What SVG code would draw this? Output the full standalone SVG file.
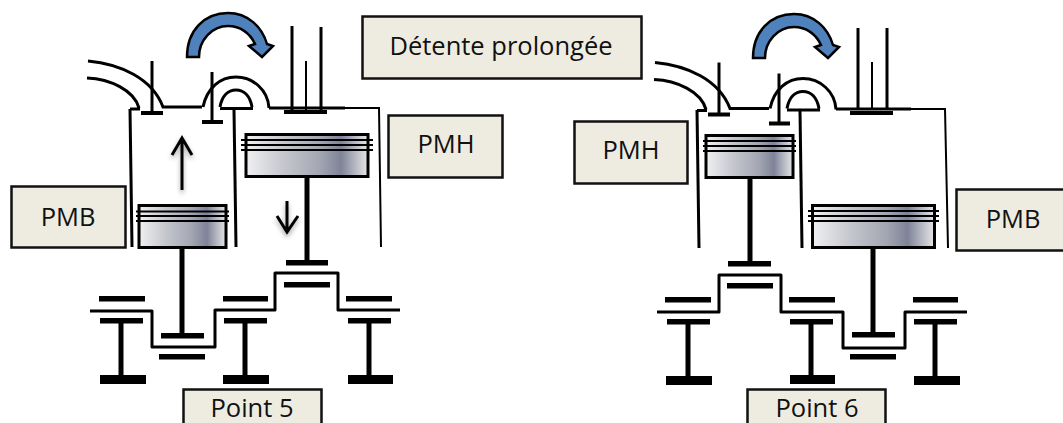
<svg xmlns="http://www.w3.org/2000/svg" width="1063" height="423" viewBox="0 0 1063 423">
<style>
.box{fill:#eeece1;stroke:#111;stroke-width:2.500}
.t{font-family:"Open Sans","Noto Sans",sans-serif;font-size:25.500px;fill:#111;text-anchor:middle}
.l{fill:none;stroke:#000;stroke-width:3}
.l2{fill:none;stroke:#000;stroke-width:2}
.rod{fill:none;stroke:#000;stroke-width:5}
.crank{fill:none;stroke:#000;stroke-width:3;stroke-linejoin:round}
.piston{fill:url(#pg);stroke:#000;stroke-width:3}
.ring{stroke:#000;stroke-width:2}
.arr{fill:#4f81bd;stroke:#000;stroke-width:2.500;stroke-linejoin:miter}
.mv{fill:none;stroke:#000;stroke-width:3;filter:url(#sh)}
</style>
<defs>
<linearGradient id="pg" x1="0" x2="1" y1="0" y2="0">
<stop offset="0" stop-color="#f0f0f2"/><stop offset=".3" stop-color="#c6c8ce"/><stop offset=".6" stop-color="#a4a7b3"/><stop offset=".78" stop-color="#7f8398"/><stop offset=".95" stop-color="#d0d1d6"/><stop offset="1" stop-color="#e4e4e8"/>
</linearGradient>
<filter id="sh" x="-100%" y="-30%" width="300%" height="170%"><feGaussianBlur in="SourceAlpha" stdDeviation="2.500"/><feOffset dy="3"/><feComponentTransfer><feFuncA type="linear" slope=".35"/></feComponentTransfer><feMerge><feMergeNode/><feMergeNode in="SourceGraphic"/></feMerge></filter>
<path id="blue" class="arr" d="M187,57 C187,30 205,13 228,13 C248,13 262,27 267,44 L273,46 L262,57 L249,46 L255,44 C250,33 240,26 228,26 C212,26 199,40 199,57 Z"/>
<g id="head">
<path class="l" d="M88,61 C120,64 152,78 163,107 H202"/>
<path class="l" d="M87,78 C110,79 134,90 139,108 M130,109 H140"/>
<path class="l" d="M152,61 V113"/><rect x="141" y="111" width="22" height="4"/>
<path class="l" d="M212,72 V122"/><rect x="202" y="120" width="21" height="4"/>
<path class="l" d="M203,107 C207,88 220,77 236,77 C253,77 268,90 269,108"/>
<path class="l" d="M220,107 C222,96 228,90 236,90 C244,90 250,96 252,107 M220,108.500 H253"/>
</g>
</defs>

<g id="connectors">
<path class="crank" d="M90,311 H152 V347 H215 V310 H275 V273 H338 V310 H400"/>
<path class="crank" d="M657,312 H719 V275 H781 V312 H843 V348 H905 V312 H967"/>
</g>

<g id="engine-left">
<use href="#head"/>
<use href="#blue"/>
<path class="l" d="M130,109 L132,247"/>
<path class="l" d="M234,110 L236,247"/>
<path class="l" d="M269,108 H345"/><path class="l2" d="M345,108 H379 L381,247"/>
<path class="l" d="M292,26 V110 M321,27 V110"/><path class="l2" d="M306,61 V110"/><rect x="284" y="110" width="43" height="4"/>
<g id="piston-5a"><rect class="piston" x="139" y="205.500" width="87" height="42"/><path class="ring" d="M136,211.500 H229 M136,216 H229 M136,221 H229"/></g>
<path class="rod" d="M182,248 V335"/><rect x="161" y="333" width="43" height="5.500"/>
<g id="piston-5b"><rect class="piston" x="246" y="134.500" width="122" height="42"/><path class="ring" d="M241,140 H373 M241,145 H373 M241,150 H373"/></g>
<path class="rod" d="M307,177 V262"/><rect x="286" y="260" width="42" height="5.500"/><rect x="284" y="282" width="46" height="5.500"/>
<rect x="159" y="354" width="46" height="5.500"/>
<g id="bearings-5">
<rect x="99" y="296" width="46" height="5.500"/><rect x="100" y="318" width="43" height="5.500"/><path class="rod" d="M121,321 V376"/><rect x="100" y="375" width="46" height="9"/>
<rect x="223" y="296" width="45" height="5.500"/><rect x="224" y="318" width="43" height="5.500"/><path class="rod" d="M245,321 V376"/><rect x="223" y="375" width="46" height="9"/>
<rect x="346" y="296" width="46" height="5.500"/><rect x="348" y="318" width="43" height="5.500"/><path class="rod" d="M369,321 V376"/><rect x="348" y="375" width="45" height="9"/>
</g>
<path class="mv" d="M182,190 V138 M172,155 L182,138 L192,155"/>
<path class="mv" d="M287,201 V232 M277,216 L287,232 L298,216"/>
</g>

<g id="engine-right">
<use href="#head" x="567" y="1.500"/>
<use href="#blue" x="566" y="1"/>
<path class="l" d="M697,110 L699,248"/>
<path class="l" d="M800,111 L802,248"/>
<path class="l" d="M836,109 H911"/><path class="l2" d="M911,109 H945 L948,248"/>
<path class="l" d="M858,28 V110 M887,28 V110"/><path class="l2" d="M872,62 V110"/><rect x="850" y="111" width="43" height="4"/>
<g id="piston-6a"><rect class="piston" x="706" y="135.500" width="87" height="42"/><path class="ring" d="M703,141 H796 M703,146 H796 M703,151 H796"/></g>
<path class="rod" d="M750,178 V264"/><rect x="728" y="261" width="43" height="5.500"/><rect x="727" y="283" width="46" height="5.500"/>
<g id="piston-6b"><rect class="piston" x="812.500" y="205.500" width="122" height="42"/><path class="ring" d="M808,211 H939 M808,216 H939 M808,221 H939"/></g>
<path class="rod" d="M873,248 V333"/><rect x="852" y="332" width="43" height="5.500"/><rect x="850" y="354" width="46" height="5.500"/>
<g id="bearings-6">
<rect x="665" y="297" width="46" height="5.500"/><rect x="667" y="319" width="43" height="5.500"/><path class="rod" d="M688,322 V377"/><rect x="666" y="376" width="46" height="9"/>
<rect x="789" y="297" width="46" height="5.500"/><rect x="790" y="319" width="43" height="5.500"/><path class="rod" d="M811,322 V377"/><rect x="790" y="375" width="45" height="9"/>
<rect x="913" y="297" width="45" height="5.500"/><rect x="914" y="319" width="43" height="5.500"/><path class="rod" d="M935,322 V377"/><rect x="914" y="376" width="46" height="9"/>
</g>
</g>

<g id="label-detente"><rect class="box" x="362.500" y="16.500" width="279" height="62"/><text class="t" x="501" y="55">Détente prolongée</text></g>
<g id="label-pmh-left"><rect class="box" x="388.500" y="115.500" width="114" height="62"/><text class="t" x="446" y="153">PMH</text></g>
<g id="label-pmb-left"><rect class="box" x="11.500" y="186.500" width="114" height="61"/><text class="t" x="68" y="226">PMB</text></g>
<g id="label-pmh-right"><rect class="box" x="574.500" y="121.500" width="113" height="62"/><text class="t" x="631" y="159">PMH</text></g>
<g id="label-pmb-right"><rect class="box" x="956.500" y="189.500" width="110" height="61"/><text class="t" x="1013" y="228">PMB</text></g>
<g id="label-point5"><rect class="box" x="183.500" y="389.500" width="138" height="40"/><text class="t" x="252" y="417">Point 5</text></g>
<g id="label-point6"><rect class="box" x="747.500" y="389.500" width="138" height="40"/><text class="t" x="817" y="417">Point 6</text></g>
</svg>
